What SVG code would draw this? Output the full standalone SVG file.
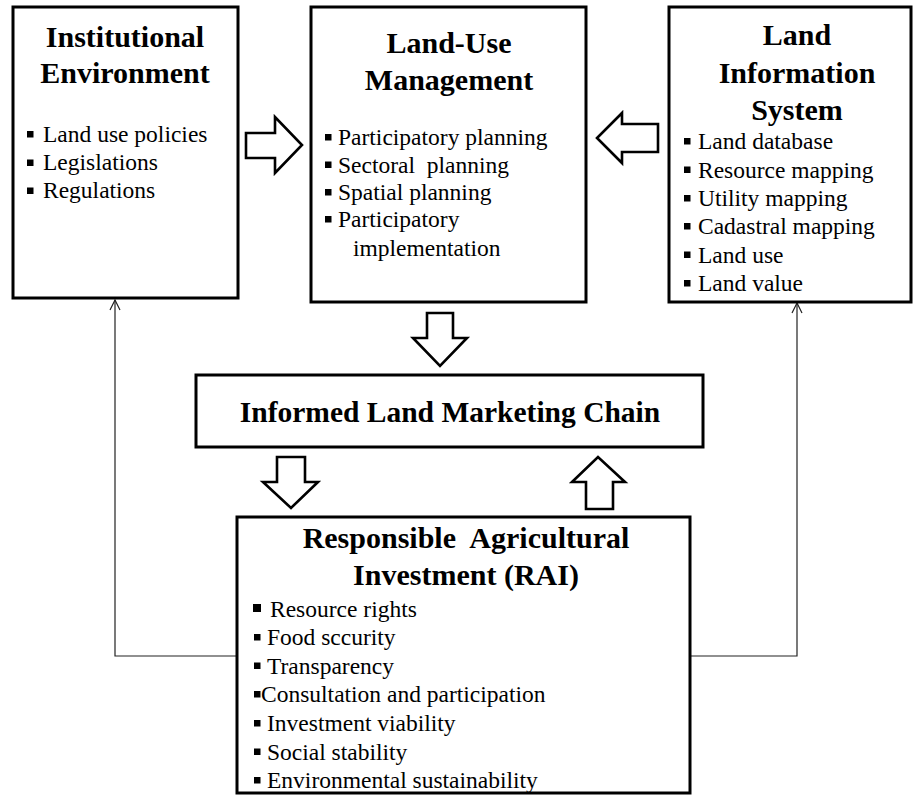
<svg xmlns="http://www.w3.org/2000/svg" width="914" height="796" viewBox="0 0 914 796">
  <style>
    .box { fill: #ffffff; stroke: #000000; stroke-width: 3; }
    .blk { fill: #ffffff; stroke: #000000; stroke-width: 2.6; stroke-linejoin: miter; }
    .link { fill: none; stroke: #222222; stroke-width: 1.2; }
    .title { font-family: "Liberation Serif", "Times New Roman", serif; font-weight: bold; font-size: 30px; fill: #000; text-anchor: middle; }
    .item { font-family: "Liberation Serif", "Times New Roman", serif; font-size: 23.5px; fill: #000; }
    .dot { fill: #000; }
  </style>
  <defs>
    <marker id="openHead" viewBox="0 0 12 12" refX="11" refY="6" markerWidth="12" markerHeight="12" markerUnits="userSpaceOnUse" orient="auto">
      <path d="M1,1 L11,6 L1,11" fill="none" stroke="#222222" stroke-width="1.2"/>
    </marker>
  </defs>

  <rect width="914" height="796" fill="#ffffff"/>

  <!-- thin feedback links from RAI to the upper side boxes, plus block arrows -->
  <g id="connectors">
    <path class="link" d="M237,656 H115 V300" marker-end="url(#openHead)"/>
    <path class="link" d="M690,656 H797 V303" marker-end="url(#openHead)"/>
    <path class="blk" d="M246,133 H275 V117 L302,145 L275,173 V158 H246 Z"/>
    <path class="blk" d="M658,124 H622 V113 L597,138 L622,163 V152 H658 Z"/>
    <path class="blk" d="M427,313 H453 V338 H467 L440,366 L413,338 H427 Z"/>
    <path class="blk" d="M277,457 H305 V482 H318 L291,508 L263,482 H277 Z"/>
    <path class="blk" d="M586,509 H613 V482 H625 L598,457 L572,482 H586 Z"/>
  </g>

  <g id="institutional-environment">
    <rect class="box" x="13" y="7" width="225" height="291"/>
    <text class="title" x="125" y="47">Institutional</text>
    <text class="title" x="125" y="83">Environment</text>
    <rect class="dot" x="27" y="131" width="6.5" height="6.5"/>
    <text class="item" x="43" y="142">Land use policies</text>
    <rect class="dot" x="27" y="159.5" width="6.5" height="6.5"/>
    <text class="item" x="43" y="170">Legislations</text>
    <rect class="dot" x="27" y="187.5" width="6.5" height="6.5"/>
    <text class="item" x="43" y="198">Regulations</text>
  </g>

  <g id="land-use-management">
    <rect class="box" x="311" y="7" width="275" height="295"/>
    <text class="title" x="449" y="53">Land-Use</text>
    <text class="title" x="449" y="90">Management</text>
    <rect class="dot" x="325" y="134" width="6.5" height="6.5"/>
    <text class="item" x="338" y="145">Participatory planning</text>
    <rect class="dot" x="325" y="161.5" width="6.5" height="6.5"/>
    <text class="item" x="338" y="172.5" style="white-space:pre">Sectoral  planning</text>
    <rect class="dot" x="325" y="189" width="6.5" height="6.5"/>
    <text class="item" x="338" y="200">Spatial planning</text>
    <rect class="dot" x="325" y="216" width="6.5" height="6.5"/>
    <text class="item" x="338" y="227">Participatory</text>
    <text class="item" x="353" y="256">implementation</text>
  </g>

  <g id="land-information-system">
    <rect class="box" x="669" y="7" width="242" height="295"/>
    <text class="title" x="797" y="45">Land</text>
    <text class="title" x="797" y="83">Information</text>
    <text class="title" x="797" y="120">System</text>
    <rect class="dot" x="684" y="138" width="6.5" height="6.5"/>
    <text class="item" x="698" y="149">Land database</text>
    <rect class="dot" x="684" y="166.5" width="6.5" height="6.5"/>
    <text class="item" x="698" y="177.5">Resource mapping</text>
    <rect class="dot" x="684" y="195" width="6.5" height="6.5"/>
    <text class="item" x="698" y="206">Utility mapping</text>
    <rect class="dot" x="684" y="223" width="6.5" height="6.5"/>
    <text class="item" x="698" y="234">Cadastral mapping</text>
    <rect class="dot" x="684" y="251.5" width="6.5" height="6.5"/>
    <text class="item" x="698" y="262.5">Land use</text>
    <rect class="dot" x="684" y="280" width="6.5" height="6.5"/>
    <text class="item" x="698" y="291">Land value</text>
  </g>

  <g id="informed-land-marketing-chain">
    <rect class="box" x="196" y="375" width="507" height="72"/>
    <text class="title" x="450" y="422" style="font-size:29.5px">Informed Land Marketing Chain</text>
  </g>

  <g id="responsible-agricultural-investment">
    <rect class="box" x="237" y="517" width="453" height="276"/>
    <text class="title" x="466" y="548" style="white-space:pre">Responsible  Agricultural</text>
    <text class="title" x="466" y="585">Investment (RAI)</text>
    <rect class="dot" x="253" y="604" width="8" height="8"/>
    <text class="item" x="270" y="616.5">Resource rights</text>
    <rect class="dot" x="254" y="634" width="6.5" height="6.5"/>
    <text class="item" x="267" y="645">Food sccurity</text>
    <rect class="dot" x="254" y="662.5" width="6.5" height="6.5"/>
    <text class="item" x="267" y="673.5">Transparency</text>
    <rect class="dot" x="254" y="691" width="6.5" height="6.5"/>
    <text class="item" x="261" y="702">Consultation and participation</text>
    <rect class="dot" x="254" y="720" width="6.5" height="6.5"/>
    <text class="item" x="267" y="731">Investment viability</text>
    <rect class="dot" x="254" y="748.5" width="6.5" height="6.5"/>
    <text class="item" x="267" y="759.5">Social stability</text>
    <rect class="dot" x="254" y="777" width="6.5" height="6.5"/>
    <text class="item" x="267" y="788">Environmental sustainability</text>
  </g>
</svg>
